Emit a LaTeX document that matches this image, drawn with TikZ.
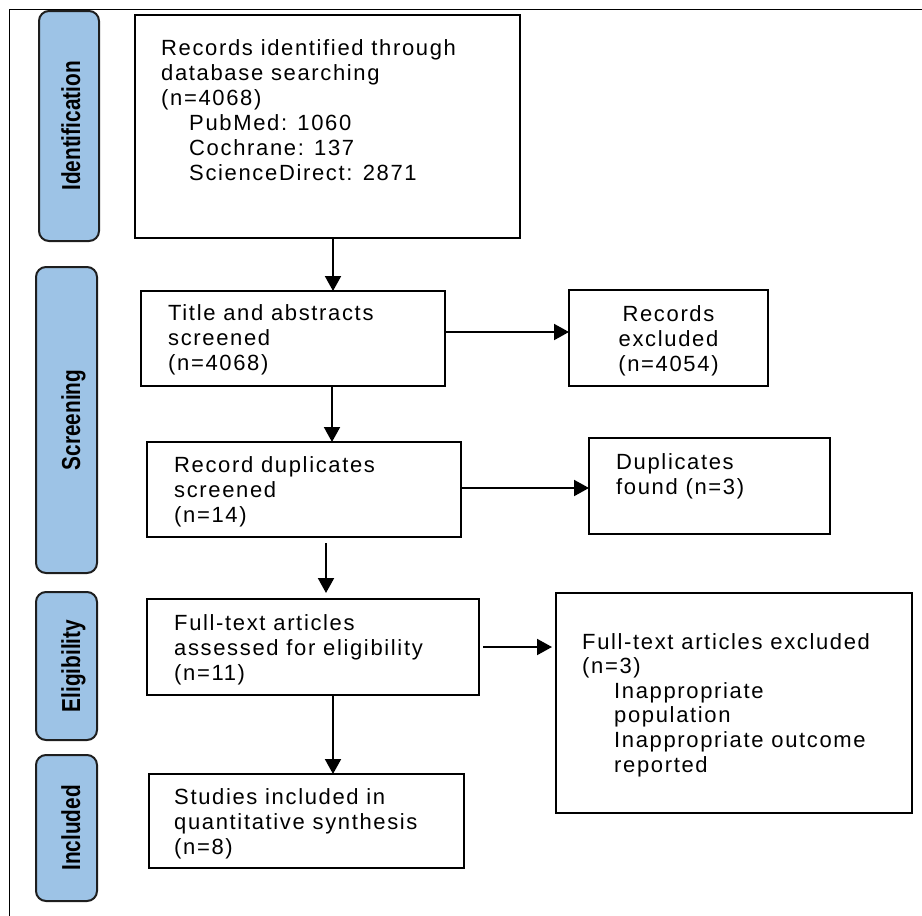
\documentclass[tikz,border=0pt]{standalone}
\usepackage{fontspec}
\setmainfont{Liberation Sans}[LetterSpace=7.5]
\newfontfamily\labfont{Liberation Sans}[FakeStretch=0.8]
\usetikzlibrary{arrows.meta}
\definecolor{pillblue}{RGB}{157,195,230}
\definecolor{pillline}{RGB}{30,30,30}
\begin{document}
\begin{tikzpicture}[x=1pt,y=-1pt,
  box/.style={draw=black, line width=2pt, inner sep=0pt, outer sep=0pt, anchor=north west},
  pill/.style={draw=pillline, fill=pillblue, line width=2pt, rounded corners=10pt, inner sep=0pt, outer sep=0pt, anchor=north west},
  txt/.style={inner sep=0pt, anchor=base west, align=left, font=\fontsize{22}{24.6}\selectfont},
  lab/.style={inner sep=0pt, rotate=90, anchor=base, font=\labfont\bfseries\fontsize{26}{30}\selectfont},
  arr/.style={line width=2pt, -{Triangle[length=15pt,width=16pt]}},
]
\useasboundingbox (0,0) rectangle (922,916);
% frame
\draw[line width=1.8pt] (9.5,916) -- (9.5,9.5) -- (922,9.5);
% phase pills
\node[pill, minimum width=60pt, minimum height=230pt] (pI) at (39,11) {};
\node[pill, minimum width=61pt, minimum height=306pt] (pS) at (36,267) {};
\node[pill, minimum width=61pt, minimum height=148pt] (pE) at (36,592) {};
\node[pill, minimum width=61pt, minimum height=146pt] (pN) at (36,755) {};
\node[lab] (lI) at (80,126) {Identification};
\node[lab] (lS) at (80,420) {Screening};
\node[lab] (lE) at (80,666) {Eligibility};
\node[lab] (lN) at (80,828) {Included};
% boxes
\node[box, minimum width=385pt, minimum height=223pt] (b1) at (135,15) {};
\node[box, minimum width=304pt, minimum height=95pt] (b2) at (141,291) {};
\node[box, minimum width=314pt, minimum height=95pt] (b3) at (147,442) {};
\node[box, minimum width=332pt, minimum height=96pt] (b4) at (147,599) {};
\node[box, minimum width=315pt, minimum height=94pt] (b5) at (149,774) {};
\node[box, minimum width=199pt, minimum height=96pt] (e1) at (569,290) {};
\node[box, minimum width=241pt, minimum height=96pt] (e2) at (589,438) {};
\node[box, minimum width=356pt, minimum height=220pt] (e3) at (556,593) {};
% texts (anchor = baseline of the last line)
\node[txt, font=\fontsize{22}{25}\selectfont] (t1) at (161,180) {Records identified through\\database searching\\(n=4068)\\\hspace*{28pt}PubMed: 1060\\\hspace*{28pt}Cochrane: 137\\\hspace*{28pt}ScienceDirect: 2871};
\node[txt] (t2) at (168,370) {Title and abstracts\\screened\\(n=4068)};
\node[txt] (t3) at (174,522) {Record duplicates\\screened\\(n=14)};
\node[txt] (t4) at (174,680) {Full-text articles\\assessed for eligibility\\(n=11)};
\node[txt] (t5) at (174,854) {Studies included in\\quantitative synthesis\\(n=8)};
\node[txt, anchor=base, align=center] (te1) at (668.5,371) {Records\\excluded\\(n=4054)};
\node[txt] (te2) at (616,494) {Duplicates\\found (n=3)};
\node[txt] (te3) at (582,772) {Full-text articles excluded\\(n=3)\\\hspace*{32pt}Inappropriate\\\hspace*{32pt}population\\\hspace*{32pt}Inappropriate outcome\\\hspace*{32pt}reported};
% connectors
\coordinate (c1) at (333,0);
\coordinate (c2) at (332,0);
\coordinate (c3) at (326,0);
\coordinate (r1) at (0,332);
\coordinate (r2) at (0,488);
\coordinate (r3) at (0,647);
\draw[arr] (b1.south -| c1) -- (b2.north -| c1);
\draw[arr] (b2.south -| c2) -- (b3.north -| c2);
\draw[arr, shorten <=6pt, shorten >=6pt] (b3.south -| c3) -- (b4.north -| c3);
\draw[arr] (b4.south -| c1) -- (b5.north -| c1);
\draw[arr] (b2.east |- r1) -- (e1.west |- r1);
\draw[arr] (b3.east |- r2) -- (e2.west |- r2);
\draw[arr, shorten <=4pt, shorten >=4pt] (b4.east |- r3) -- (e3.west |- r3);
\end{tikzpicture}
\end{document}
